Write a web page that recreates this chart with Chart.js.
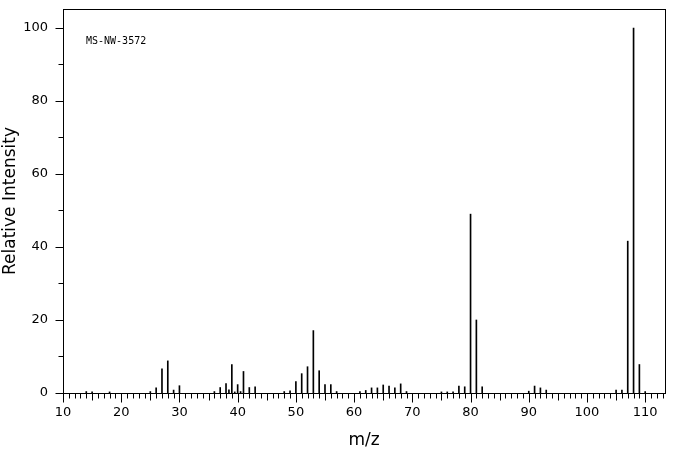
<!DOCTYPE html>
<html>
<head>
<meta charset="utf-8">
<script src="https://cdn.jsdelivr.net/npm/chart.js@4/dist/chart.umd.min.js"></script>
<style>
  html, body { margin: 0; padding: 0; background: #fff; }
  #wrap { width: 676px; height: 455px; }
</style>
</head>
<body>
<div id="wrap"><canvas id="ms" width="676" height="455"></canvas></div>
<script>
// spectrum
const sampleId = 'MS-NW-3572';
const mzValues = [14, 15, 18, 25, 26, 27, 28, 29, 30, 36, 37, 38, 38.5, 39, 39.5, 40, 40.5, 41, 42, 43,
    48, 49, 50, 51, 52, 53, 54, 55, 56, 57, 61, 62, 63, 64, 65, 66, 67, 68, 69,
    75, 76, 77, 78, 79, 80, 81, 82, 90, 91, 92, 93, 105, 106, 107, 108, 109, 110];
const intensities = [0.4, 0.3, 0.3, 0.4, 1.4, 6.6, 8.8, 0.8, 2.0, 0.4, 1.5, 2.6, 0.9, 7.8, 0.3, 2.3, 0.4, 5.9, 1.5, 1.7,
    0.4, 0.6, 3.1, 5.3, 7.2, 17.1, 6.1, 2.3, 2.3, 0.4, 0.4, 0.7, 1.4, 1.4, 2.2, 1.9, 1.4, 2.5, 0.4,
    0.3, 0.3, 0.3, 1.9, 1.7, 49.0, 20.0, 1.7, 0.5, 1.9, 1.4, 0.8, 0.8, 0.8, 41.6, 100, 7.8, 0.4];
const xTickLabels = [10, 20, 30, 40, 50, 60, 70, 80, 90, 100, 110];
const yTickLabels = [0, 20, 40, 60, 80, 100];

const FONT = 'DejaVu Sans';

// frame, minor ticks and the sample id
const framePlugin = {
    id: 'frame',
    afterDraw(chart) {
        const { ctx, chartArea: a, scales: { x, y } } = chart;
        ctx.save();
        ctx.strokeStyle = '#000';
        ctx.lineWidth = 1;
        ctx.strokeRect(Math.round(a.left) + 0.5, Math.round(a.top) + 0.5,
            Math.round(a.right - a.left), Math.round(a.bottom - a.top));
        ctx.beginPath();
        const bottom = Math.round(a.bottom) + 0.5;
        for (let v = Math.ceil(x.min); v <= x.max; v++) {
            const px = Math.round(x.getPixelForValue(v)) + 0.5;
            const len = v % 10 === 0 ? 9 : (v % 5 === 0 ? 7 : 5);
            ctx.moveTo(px, bottom);
            ctx.lineTo(px, bottom + len);
        }
        const left = Math.round(a.left) + 0.5;
        for (let v = 0; v <= y.max; v += 10) {
            const py = Math.round(y.getPixelForValue(v)) + 0.5;
            const len = v % 20 === 0 ? 8 : 5;
            ctx.moveTo(left - len, py);
            ctx.lineTo(left, py);
        }
        ctx.stroke();
        ctx.fillStyle = '#000';
        ctx.font = '10px "DejaVu Sans Mono"';
        ctx.textBaseline = 'middle';
        ctx.fillText(sampleId, a.left + 23, a.top + 32);
        ctx.restore();
    }
};

const peaks = mzValues.map((m, i) => ({ x: m, y: intensities[i] }));

new Chart(document.getElementById('ms'), {
    type: 'bar',
    data: {
        datasets: [{
            data: peaks,
            backgroundColor: '#000',
            borderWidth: 0,
            barThickness: 1
        }]
    },
    options: {
        responsive: false,
        devicePixelRatio: 1,
        animation: false,
        layout: { padding: { top: 9, right: 11, left: 0, bottom: 0 } },
        plugins: { legend: { display: false }, tooltip: { enabled: false } },
        scales: {
            x: {
                type: 'linear',
                min: 10,
                max: 113.4,
                offset: false,
                grid: { display: false, drawTicks: false, offset: false },
                border: { display: false },
                afterBuildTicks: s => { s.ticks = xTickLabels.map(v => ({ value: v })); },
                afterFit: s => { s.height = 62; s.paddingLeft = 0; s.paddingRight = 0; },
                ticks: { color: '#000', font: { family: FONT, size: 13 }, padding: 12, maxRotation: 0, autoSkip: false },
                title: { display: true, text: 'm/z', color: '#000', font: { family: FONT, size: 17 }, padding: { top: 4 } }
            },
            y: {
                min: 0,
                max: 105.2,
                grid: { display: false, drawTicks: false },
                border: { display: false },
                afterBuildTicks: s => { s.ticks = yTickLabels.map(v => ({ value: v })); },
                afterFit: s => { s.width = 63; s.paddingTop = 0; s.paddingBottom = 0; },
                ticks: { color: '#000', font: { family: FONT, size: 13 }, padding: 15 },
                title: { display: true, text: 'Relative Intensity', color: '#000', font: { family: FONT, size: 17 }, padding: 0 }
            }
        }
    },
    plugins: [framePlugin]
});
</script>
</body>
</html>
